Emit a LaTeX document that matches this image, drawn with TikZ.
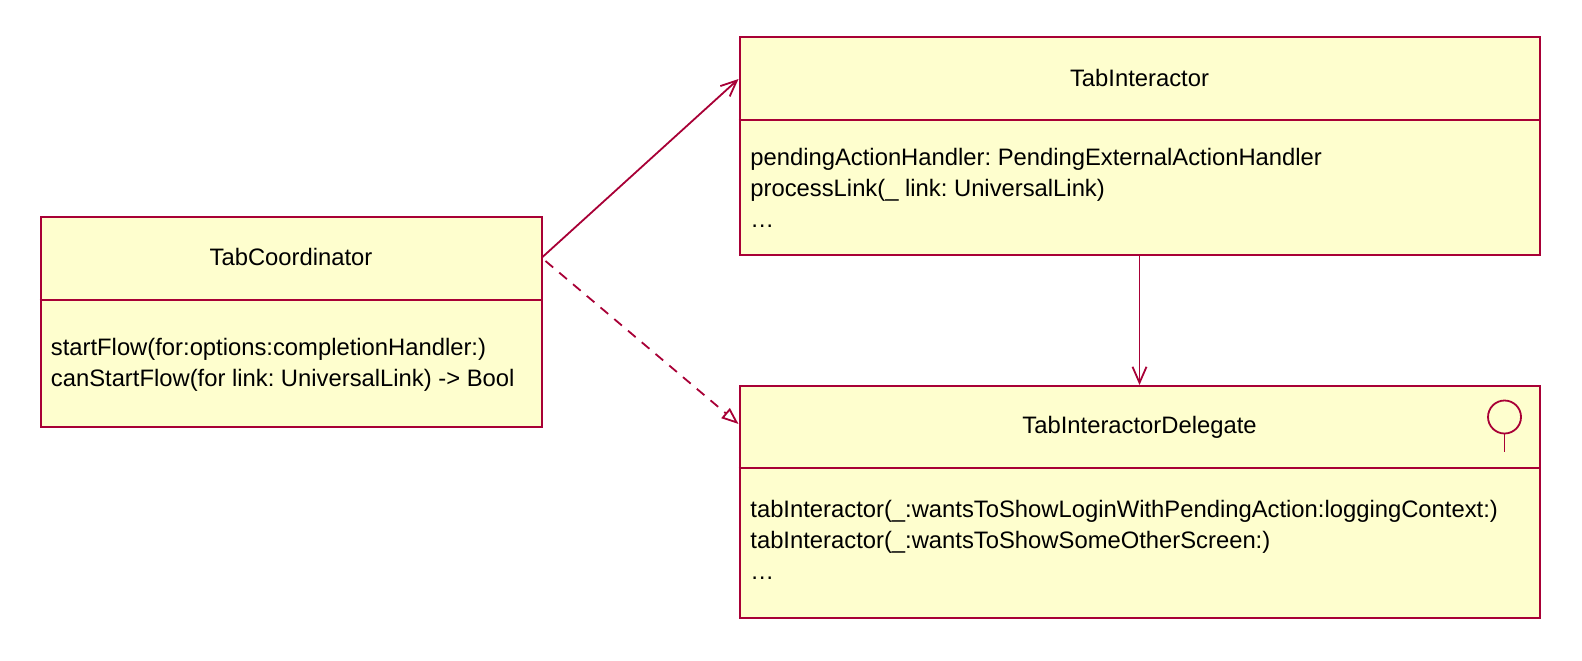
\documentclass[tikz,border=0pt]{standalone}
\usepackage{fontspec}
\setmainfont{Liberation Sans}
\usetikzlibrary{positioning}
\usetikzlibrary{arrows.meta}
\usetikzlibrary{calc}
\definecolor{umlred}{HTML}{A80036}
\definecolor{umlfill}{HTML}{FEFECE}
\frenchspacing

\begin{document}
\begin{tikzpicture}[
    x=0.5pt, y=-0.5pt,
    classbox/.style={rectangle, draw=umlred, fill=umlfill, line width=1pt, anchor=north west, inner sep=0pt},
    title/.style={anchor=base, inner sep=0pt, font=\fontsize{11.9}{14}\selectfont},
    member/.style={anchor=base west, inner sep=0pt, font=\fontsize{11.9}{14}\selectfont},
    divider/.style={draw=umlred, line width=1pt},
    assoc/.style={draw=umlred, line width=0.9pt, -{Straight Barb[length=8pt, width=7pt]}},
    realize/.style={draw=umlred, line width=0.9pt, dash pattern=on 5pt off 4pt, -{Triangle[open, length=8.5pt, width=6.5pt]}}
]
    \useasboundingbox (0,0) rectangle (1582,660);

    % Coordinator
    \node[classbox, minimum width=250.5pt, minimum height=105pt] (TC) at (39.5,216) {};
    \draw[divider] ($(TC.north west)+(0,84)$) -- ($(TC.north east)+(0,84)$);
    \node[title] (TCname) at ($(TC.north)+(0,49)$) {TabCoordinator};
    \node[member] (TCm1) at ($(TC.north west)+(11,139)$) {startFlow(for:options:completionHandler:)};
    \node[member] (TCm2) at ($(TC.north west)+(11,170)$) {canStartFlow(for link: UniversalLink) -> Bool};

    % Interactor
    \node[classbox, minimum width=400pt, minimum height=109pt] (TI) at (738.5,36) {};
    \draw[divider] ($(TI.north west)+(0,83.5)$) -- ($(TI.north east)+(0,83.5)$);
    \node[title] (TIname) at ($(TI.north)+(0,50)$) {TabInteractor};
    \node[member] (TIm1) at ($(TI.north west)+(11.5,129)$) {pendingActionHandler: PendingExternalActionHandler};
    \node[member] (TIm2) at ($(TI.north west)+(11.5,160)$) {processLink(\_ link: UniversalLink)};
    \node[member] (TIm3) at ($(TI.north west)+(11.5,191)$) {…};

    % Delegate (interface)
    \node[classbox, minimum width=400pt, minimum height=116pt] (TID) at (738.5,385) {};
    \draw[divider] ($(TID.north west)+(0,83)$) -- ($(TID.north east)+(0,83)$);
    \node[title] (TIDname) at ($(TID.north)+(0,48)$) {TabInteractorDelegate};
    \node[member] (TIDm1) at ($(TID.north west)+(11.5,132)$) {tabInteractor(\_:wantsToShowLoginWithPendingAction:loggingContext:)};
    \node[member] (TIDm2) at ($(TID.north west)+(11.5,163)$) {tabInteractor(\_:wantsToShowSomeOtherScreen:)};
    \node[member] (TIDm3) at ($(TID.north west)+(11.5,194)$) {…};

    \node[circle, draw=umlred, line width=0.9pt, minimum size=16.5pt, inner sep=0pt] (Lollipop) at ($(TID.north east)+(-36,32)$) {};
    \draw[umlred, line width=0.9pt] (Lollipop.south) -- ++(0,18);

    % Relations
    \draw[assoc] ($(TC.north east)+(0,41)$) -- ($(TI.north west)+(0,43)$);
    \draw[realize] ($(TC.north east)+(3,45)$) -- ($(TID.north west)+(0,39)$);
    \draw[assoc] (TI.south) -- (TID.north);
\end{tikzpicture}
\end{document}
